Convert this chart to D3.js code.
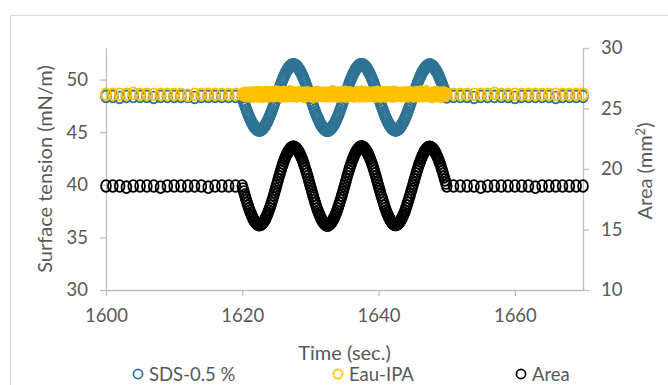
<!DOCTYPE html>
<html>
<head>
<meta charset="utf-8">
<script src="https://cdn.jsdelivr.net/npm/d3@7"></script>
<style>
  body { margin: 0; background: #fff; }
  svg text { font-family: Lato, "Open Sans", sans-serif; fill: #595959; }
</style>
</head>
<body>
<div id="chart"></div>
<script>
// sampling times (sec.): 1 s before and after the oscillation, 0.125 s during it
const time = [
  1600, 1601, 1602, 1603, 1604, 1605, 1606, 1607, 1608, 1609,
  1610, 1611, 1612, 1613, 1614, 1615, 1616, 1617, 1618, 1619, 1620,
  1620.125, 1620.25, 1620.375, 1620.5, 1620.625, 1620.75, 1620.875, 1621,
  1621.125, 1621.25, 1621.375, 1621.5, 1621.625, 1621.75, 1621.875, 1622,
  1622.125, 1622.25, 1622.375, 1622.5, 1622.625, 1622.75, 1622.875, 1623,
  1623.125, 1623.25, 1623.375, 1623.5, 1623.625, 1623.75, 1623.875, 1624,
  1624.125, 1624.25, 1624.375, 1624.5, 1624.625, 1624.75, 1624.875, 1625,
  1625.125, 1625.25, 1625.375, 1625.5, 1625.625, 1625.75, 1625.875, 1626,
  1626.125, 1626.25, 1626.375, 1626.5, 1626.625, 1626.75, 1626.875, 1627,
  1627.125, 1627.25, 1627.375, 1627.5, 1627.625, 1627.75, 1627.875, 1628,
  1628.125, 1628.25, 1628.375, 1628.5, 1628.625, 1628.75, 1628.875, 1629,
  1629.125, 1629.25, 1629.375, 1629.5, 1629.625, 1629.75, 1629.875, 1630,
  1630.125, 1630.25, 1630.375, 1630.5, 1630.625, 1630.75, 1630.875, 1631,
  1631.125, 1631.25, 1631.375, 1631.5, 1631.625, 1631.75, 1631.875, 1632,
  1632.125, 1632.25, 1632.375, 1632.5, 1632.625, 1632.75, 1632.875, 1633,
  1633.125, 1633.25, 1633.375, 1633.5, 1633.625, 1633.75, 1633.875, 1634,
  1634.125, 1634.25, 1634.375, 1634.5, 1634.625, 1634.75, 1634.875, 1635,
  1635.125, 1635.25, 1635.375, 1635.5, 1635.625, 1635.75, 1635.875, 1636,
  1636.125, 1636.25, 1636.375, 1636.5, 1636.625, 1636.75, 1636.875, 1637,
  1637.125, 1637.25, 1637.375, 1637.5, 1637.625, 1637.75, 1637.875, 1638,
  1638.125, 1638.25, 1638.375, 1638.5, 1638.625, 1638.75, 1638.875, 1639,
  1639.125, 1639.25, 1639.375, 1639.5, 1639.625, 1639.75, 1639.875, 1640,
  1640.125, 1640.25, 1640.375, 1640.5, 1640.625, 1640.75, 1640.875, 1641,
  1641.125, 1641.25, 1641.375, 1641.5, 1641.625, 1641.75, 1641.875, 1642,
  1642.125, 1642.25, 1642.375, 1642.5, 1642.625, 1642.75, 1642.875, 1643,
  1643.125, 1643.25, 1643.375, 1643.5, 1643.625, 1643.75, 1643.875, 1644,
  1644.125, 1644.25, 1644.375, 1644.5, 1644.625, 1644.75, 1644.875, 1645,
  1645.125, 1645.25, 1645.375, 1645.5, 1645.625, 1645.75, 1645.875, 1646,
  1646.125, 1646.25, 1646.375, 1646.5, 1646.625, 1646.75, 1646.875, 1647,
  1647.125, 1647.25, 1647.375, 1647.5, 1647.625, 1647.75, 1647.875, 1648,
  1648.125, 1648.25, 1648.375, 1648.5, 1648.625, 1648.75, 1648.875, 1649,
  1649.125, 1649.25, 1649.375, 1649.5, 1649.625, 1649.75, 1649.875, 1650,
  1651, 1652, 1653, 1654, 1655, 1656, 1657, 1658, 1659, 1660,
  1661, 1662, 1663, 1664, 1665, 1666, 1667, 1668, 1669, 1670
];

// surface tension, SDS-0.5 % (mN/m, left axis)
const sds = [
  48.4, 48.4, 48.3, 48.4, 48.4, 48.4, 48.4, 48.3, 48.4, 48.4,
  48.4, 48.4, 48.4, 48.3, 48.4, 48.4, 48.4, 48.4, 48.4, 48.4, 48.4,
  48.06, 47.82, 47.58, 47.34, 47.11, 46.89, 46.68, 46.48, 46.29, 46.11,
  45.94, 45.79, 45.66, 45.54, 45.44, 45.35, 45.29, 45.24, 45.21, 45.20,
  45.21, 45.24, 45.29, 45.35, 45.44, 45.54, 45.66, 45.79, 45.94, 46.11,
  46.29, 46.48, 46.68, 46.89, 47.11, 47.34, 47.58, 47.82, 48.06, 48.30,
  48.54, 48.78, 49.02, 49.26, 49.49, 49.71, 49.92, 50.12, 50.31, 50.49,
  50.66, 50.81, 50.94, 51.06, 51.16, 51.25, 51.31, 51.36, 51.39, 51.40,
  51.39, 51.36, 51.31, 51.25, 51.16, 51.06, 50.94, 50.81, 50.66, 50.49,
  50.31, 50.12, 49.92, 49.71, 49.49, 49.26, 49.02, 48.78, 48.54, 48.30,
  48.05, 47.81, 47.57, 47.33, 47.09, 46.87, 46.66, 46.46, 46.27, 46.09,
  45.92, 45.77, 45.64, 45.52, 45.42, 45.33, 45.27, 45.22, 45.19, 45.18,
  45.19, 45.22, 45.27, 45.34, 45.43, 45.53, 45.65, 45.78, 45.93, 46.10,
  46.28, 46.47, 46.67, 46.88, 47.10, 47.33, 47.57, 47.81, 48.05, 48.29,
  48.54, 48.78, 49.03, 49.27, 49.50, 49.72, 49.93, 50.13, 50.32, 50.50,
  50.67, 50.82, 50.96, 51.08, 51.18, 51.27, 51.33, 51.38, 51.41, 51.42,
  51.41, 51.38, 51.33, 51.27, 51.18, 51.08, 50.96, 50.82, 50.67, 50.50,
  50.32, 50.13, 49.93, 49.72, 49.50, 49.27, 49.03, 48.78, 48.54, 48.30,
  48.07, 47.83, 47.59, 47.35, 47.12, 46.90, 46.69, 46.49, 46.30, 46.12,
  45.95, 45.80, 45.67, 45.55, 45.45, 45.36, 45.30, 45.25, 45.22, 45.21,
  45.22, 45.25, 45.30, 45.36, 45.45, 45.55, 45.67, 45.80, 45.95, 46.12,
  46.30, 46.49, 46.69, 46.90, 47.12, 47.35, 47.59, 47.83, 48.07, 48.31,
  48.55, 48.79, 49.03, 49.26, 49.48, 49.70, 49.91, 50.11, 50.30, 50.48,
  50.64, 50.79, 50.92, 51.04, 51.14, 51.23, 51.29, 51.34, 51.37, 51.38,
  51.37, 51.34, 51.29, 51.23, 51.14, 51.04, 50.92, 50.79, 50.64, 50.48,
  50.30, 50.11, 49.91, 49.70, 49.48, 49.26, 49.03, 48.79, 48.55, 48.35,
  48.4, 48.4, 48.4, 48.3, 48.4, 48.4, 48.4, 48.4, 48.4, 48.3,
  48.4, 48.4, 48.4, 48.4, 48.4, 48.3, 48.4, 48.4, 48.4, 48.4
];

// surface tension, Eau-IPA (mN/m, left axis)
const eauIpa = [
  48.6, 48.6, 48.6, 48.6, 48.7, 48.6, 48.6, 48.6, 48.6, 48.6,
  48.6, 48.6, 48.5, 48.6, 48.6, 48.6, 48.6, 48.6, 48.6, 48.6, 48.6,
  48.62, 48.55, 48.70, 48.48, 48.66, 48.58, 48.45, 48.72, 48.60, 48.52,
  48.68, 48.41, 48.63, 48.75, 48.50, 48.58, 48.69, 48.44, 48.61, 48.78,
  48.53, 48.66, 48.39, 48.57, 48.71, 48.62, 48.47, 48.80, 48.56, 48.64,
  48.43, 48.70, 48.59, 48.51, 48.76, 48.60, 48.46, 48.67, 48.55, 48.82,
  48.58, 48.63, 48.49, 48.74, 48.61, 48.42, 48.68, 48.57, 48.79, 48.52,
  48.65, 48.45, 48.71, 48.60, 48.54, 48.83, 48.58, 48.47, 48.66, 48.62,
  48.50, 48.73, 48.59, 48.44, 48.69, 48.56, 48.77, 48.61, 48.48, 48.64,
  48.55, 48.70, 48.40, 48.62, 48.58, 48.75, 48.51, 48.66, 48.59, 48.60,
  48.53, 48.66, 48.39, 48.57, 48.71, 48.62, 48.47, 48.80, 48.56, 48.64,
  48.62, 48.55, 48.70, 48.48, 48.66, 48.58, 48.45, 48.72, 48.60, 48.52,
  48.65, 48.45, 48.71, 48.60, 48.54, 48.83, 48.58, 48.47, 48.66, 48.62,
  48.68, 48.41, 48.63, 48.75, 48.50, 48.58, 48.69, 48.44, 48.61, 48.78,
  48.55, 48.70, 48.40, 48.62, 48.58, 48.75, 48.51, 48.66, 48.59, 48.60,
  48.43, 48.70, 48.59, 48.51, 48.76, 48.60, 48.46, 48.67, 48.55, 48.82,
  48.50, 48.73, 48.59, 48.44, 48.69, 48.56, 48.77, 48.61, 48.48, 48.64,
  48.58, 48.63, 48.49, 48.74, 48.61, 48.42, 48.68, 48.57, 48.79, 48.52,
  48.68, 48.41, 48.63, 48.75, 48.50, 48.58, 48.69, 48.44, 48.61, 48.78,
  48.58, 48.63, 48.49, 48.74, 48.61, 48.42, 48.68, 48.57, 48.79, 48.52,
  48.62, 48.55, 48.70, 48.48, 48.66, 48.58, 48.45, 48.72, 48.60, 48.52,
  48.50, 48.73, 48.59, 48.44, 48.69, 48.56, 48.77, 48.61, 48.48, 48.64,
  48.43, 48.70, 48.59, 48.51, 48.76, 48.60, 48.46, 48.67, 48.55, 48.82,
  48.65, 48.45, 48.71, 48.60, 48.54, 48.83, 48.58, 48.47, 48.66, 48.62,
  48.53, 48.66, 48.39, 48.57, 48.71, 48.62, 48.47, 48.80, 48.56, 48.64,
  48.55, 48.70, 48.40, 48.62, 48.58, 48.75, 48.51, 48.66, 48.59, 48.60,
  48.6, 48.6, 48.6, 48.6, 48.6, 48.6, 48.7, 48.6, 48.6, 48.6,
  48.6, 48.6, 48.6, 48.6, 48.6, 48.6, 48.6, 48.6, 48.6, 48.6
];

// drop area (mm², right axis)
const area = [
  18.6, 18.6, 18.6, 18.5, 18.6, 18.6, 18.6, 18.6, 18.5, 18.6,
  18.6, 18.6, 18.6, 18.6, 18.6, 18.5, 18.6, 18.6, 18.6, 18.6, 18.6,
  18.35, 18.10, 17.85, 17.61, 17.38, 17.15, 16.93, 16.72, 16.52, 16.34,
  16.17, 16.01, 15.87, 15.75, 15.64, 15.56, 15.49, 15.44, 15.41, 15.40,
  15.41, 15.44, 15.49, 15.56, 15.64, 15.75, 15.87, 16.01, 16.17, 16.34,
  16.52, 16.72, 16.93, 17.15, 17.38, 17.61, 17.85, 18.10, 18.35, 18.60,
  18.85, 19.10, 19.35, 19.59, 19.82, 20.05, 20.27, 20.48, 20.68, 20.86,
  21.03, 21.19, 21.33, 21.45, 21.56, 21.64, 21.71, 21.76, 21.79, 21.80,
  21.79, 21.76, 21.71, 21.64, 21.56, 21.45, 21.33, 21.19, 21.03, 20.86,
  20.68, 20.48, 20.27, 20.05, 19.82, 19.59, 19.35, 19.10, 18.85, 18.60,
  18.34, 18.09, 17.84, 17.60, 17.36, 17.13, 16.91, 16.70, 16.50, 16.32,
  16.15, 15.99, 15.85, 15.73, 15.62, 15.53, 15.46, 15.41, 15.38, 15.37,
  15.38, 15.42, 15.47, 15.54, 15.63, 15.74, 15.86, 16.00, 16.16, 16.33,
  16.51, 16.71, 16.92, 17.14, 17.37, 17.60, 17.84, 18.09, 18.34, 18.59,
  18.85, 19.10, 19.35, 19.60, 19.83, 20.06, 20.28, 20.49, 20.69, 20.87,
  21.04, 21.20, 21.34, 21.46, 21.57, 21.66, 21.73, 21.78, 21.81, 21.82,
  21.81, 21.78, 21.73, 21.66, 21.57, 21.46, 21.34, 21.20, 21.04, 20.87,
  20.69, 20.49, 20.28, 20.06, 19.83, 19.60, 19.35, 19.10, 18.85, 18.60,
  18.35, 18.11, 17.86, 17.62, 17.39, 17.16, 16.94, 16.73, 16.53, 16.35,
  16.18, 16.02, 15.88, 15.76, 15.65, 15.57, 15.50, 15.45, 15.42, 15.41,
  15.42, 15.45, 15.50, 15.57, 15.65, 15.76, 15.88, 16.02, 16.18, 16.35,
  16.53, 16.73, 16.94, 17.16, 17.39, 17.62, 17.86, 18.11, 18.35, 18.60,
  18.84, 19.09, 19.34, 19.58, 19.81, 20.04, 20.26, 20.47, 20.67, 20.85,
  21.02, 21.18, 21.32, 21.44, 21.55, 21.63, 21.70, 21.75, 21.78, 21.79,
  21.78, 21.75, 21.70, 21.63, 21.55, 21.44, 21.32, 21.18, 21.02, 20.85,
  20.67, 20.47, 20.26, 20.04, 19.81, 19.58, 19.34, 19.09, 18.84, 18.60,
  18.6, 18.6, 18.6, 18.6, 18.5, 18.6, 18.6, 18.6, 18.6, 18.6,
  18.6, 18.6, 18.5, 18.6, 18.6, 18.6, 18.6, 18.6, 18.6, 18.6
];

const xTicks = [1600, 1620, 1640, 1660];
const leftTicks = [30, 35, 40, 45, 50];
const rightTicks = [10, 15, 20, 25, 30];
const seriesNames = ["SDS-0.5 %", "Eau-IPA", "Area"];
const seriesColors = ["#2E7394", "#FFC000", "#000000"];

const width = 668, height = 385;
const plot = { left: 106, right: 583, top: 48, bottom: 290 };

const svg = d3.select("#chart").append("svg")
  .attr("width", width)
  .attr("height", height);

// chart frame
svg.append("rect")
  .attr("x", 10.5).attr("y", 15.5)
  .attr("width", 700).attr("height", 400)
  .attr("fill", "none")
  .attr("stroke", "#D9D9D9");

const x = d3.scaleLinear().domain([1600, 1670]).range([plot.left, plot.right]);
const yLeft = d3.scaleLinear().domain([30, 53]).range([plot.bottom, plot.top]);
const yRight = d3.scaleLinear().domain([10, 30]).range([plot.bottom, plot.top]);

function styleAxis(g) {
  g.selectAll("path, line").attr("stroke", "#BFBFBF").attr("stroke-width", 1.3);
  g.selectAll("text")
    .style("font-size", "18.5px")
    .attr("fill", "#595959");
}

svg.append("g")
  .attr("transform", `translate(0,${plot.bottom})`)
  .call(d3.axisBottom(x).tickValues(xTicks).tickFormat(d3.format("d")).tickSize(6).tickSizeOuter(0).tickPadding(13))
  .call(styleAxis);

svg.append("g")
  .attr("transform", `translate(${plot.left},0)`)
  .call(d3.axisLeft(yLeft).tickValues(leftTicks).tickSize(6).tickSizeOuter(0).tickPadding(12))
  .call(styleAxis);

svg.append("g")
  .attr("transform", `translate(${plot.right},0)`)
  .call(d3.axisRight(yRight).tickValues(rightTicks).tickSize(6).tickSizeOuter(0).tickPadding(12))
  .call(styleAxis);

// axis titles
svg.append("text")
  .attr("x", (plot.left + plot.right) / 2)
  .attr("y", 360)
  .attr("text-anchor", "middle")
  .style("font-size", "20px")
  .text("Time (sec.)");

svg.append("text")
  .attr("transform", `translate(52,${(plot.top + plot.bottom) / 2}) rotate(-90)`)
  .attr("text-anchor", "middle")
  .style("font-size", "20px")
  .text("Surface tension (mN/m)");

const areaTitle = svg.append("text")
  .attr("transform", `translate(652,${(plot.top + plot.bottom) / 2 + 2}) rotate(-90)`)
  .attr("text-anchor", "middle")
  .style("font-size", "20px");
areaTitle.append("tspan").text("Area (mm");
areaTitle.append("tspan").attr("dy", -7).style("font-size", "13px").text("2");
areaTitle.append("tspan").attr("dy", 7).text(")");

// markers (slightly tall ovals, as in the source picture)
const series = [
  { values: sds, y: yLeft, color: seriesColors[0] },
  { values: eauIpa, y: yLeft, color: seriesColors[1] },
  { values: area, y: yRight, color: seriesColors[2] }
];

series.forEach(s => {
  svg.append("g")
    .selectAll("ellipse")
    .data(time.map((t, i) => ({ t, v: s.values[i] })))
    .join("ellipse")
    .attr("cx", d => x(d.t))
    .attr("cy", d => s.y(d.v))
    .attr("rx", 4.9)
    .attr("ry", 5.9)
    .attr("fill", "none")
    .attr("stroke", s.color)
    .attr("stroke-width", 1.8);
});

// legend
const legendX = [138, 338, 521];
const legend = svg.append("g");
seriesNames.forEach((name, i) => {
  legend.append("circle")
    .attr("cx", legendX[i]).attr("cy", 374)
    .attr("r", 4.6)
    .attr("fill", "none")
    .attr("stroke", seriesColors[i])
    .attr("stroke-width", 1.7);
  legend.append("text")
    .attr("x", legendX[i] + 11)
    .attr("y", 381)
    .style("font-size", "18.5px")
    .text(name);
});
</script>
</body>
</html>
